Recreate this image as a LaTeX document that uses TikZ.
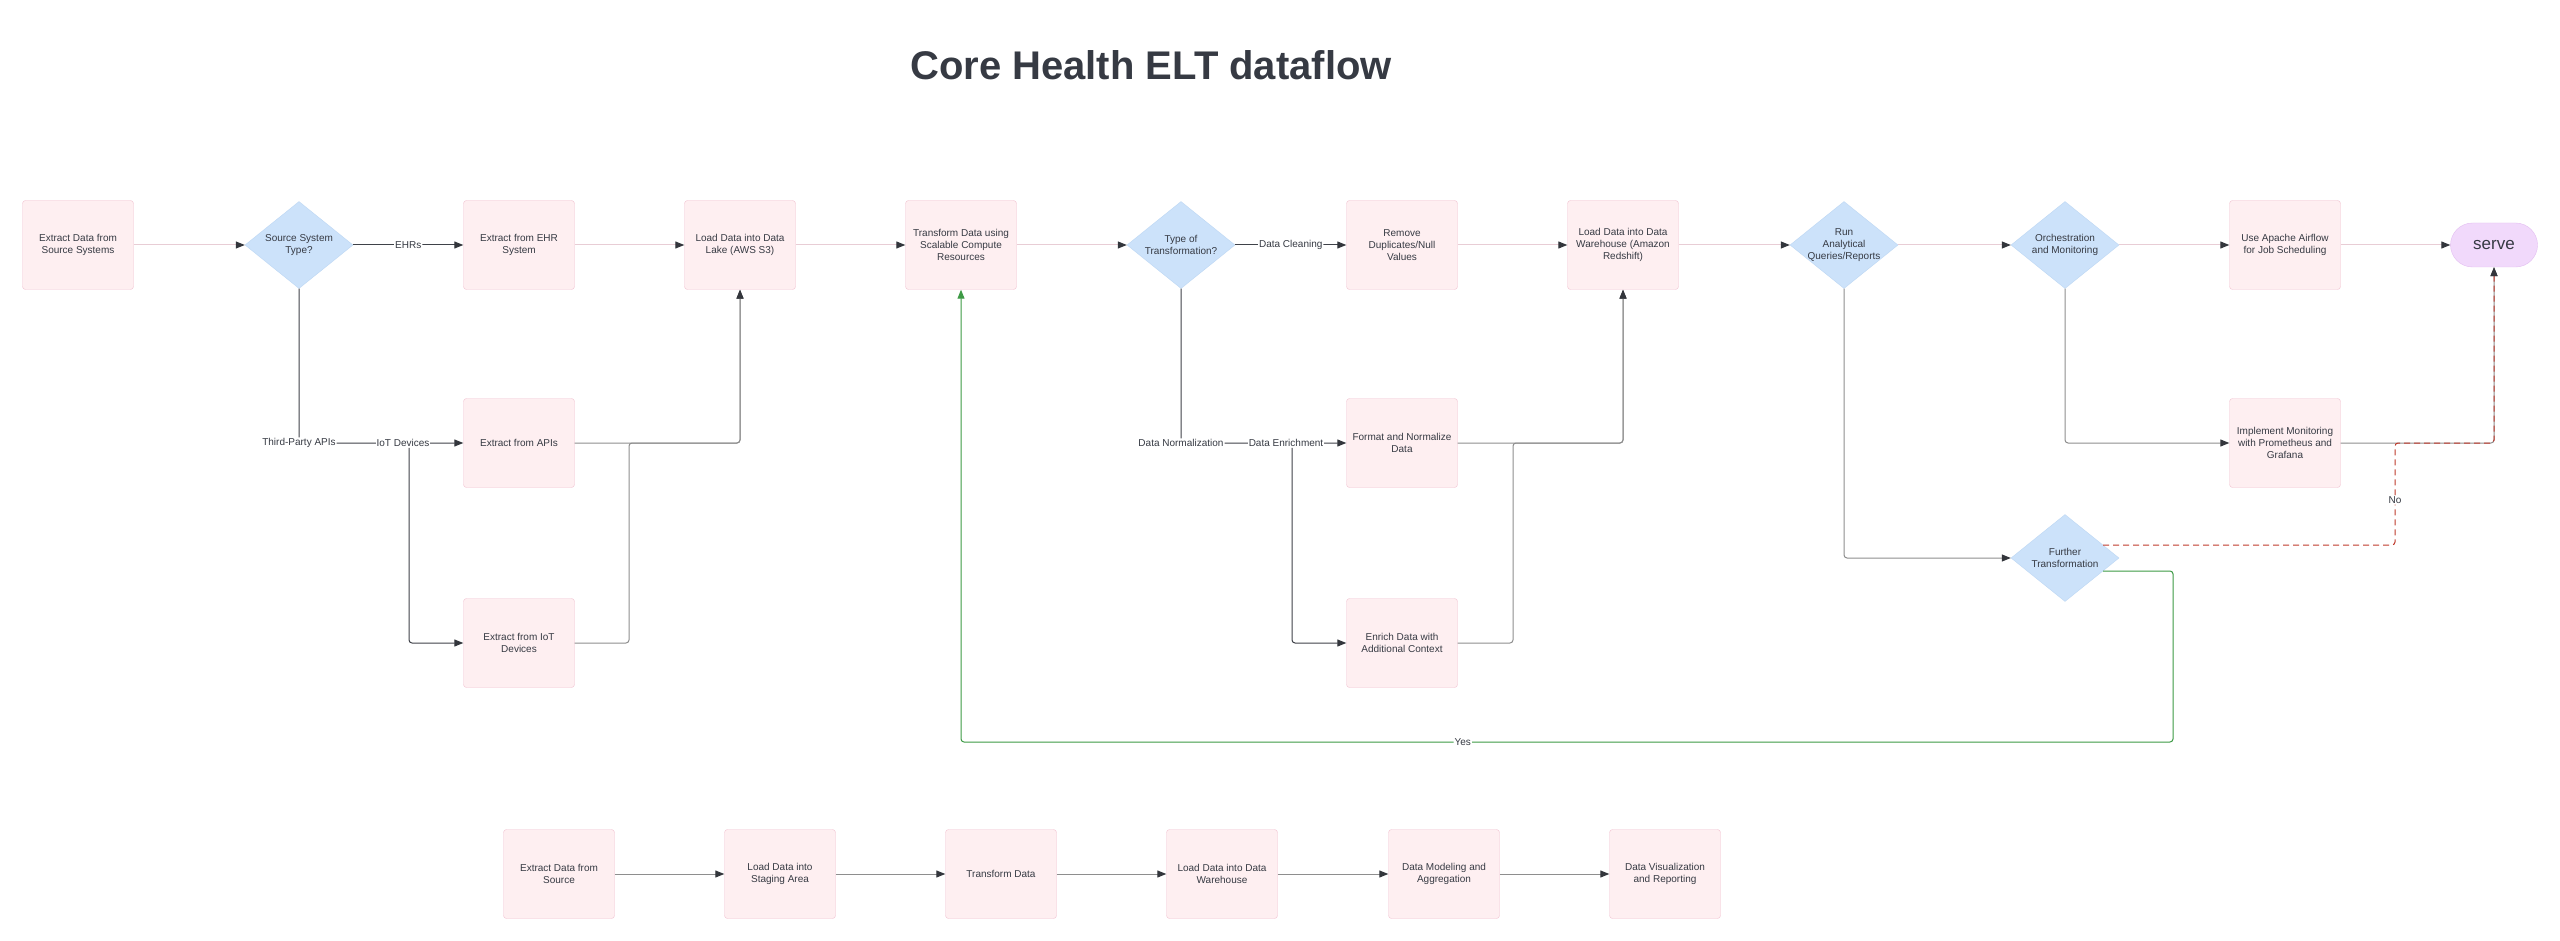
\documentclass[tikz,border=0pt]{standalone}
\usepackage{fontspec}
\setmainfont{Liberation Sans}
\usepackage{xcolor}
\usetikzlibrary{shapes.geometric, arrows.meta}

\definecolor{boxfill}{HTML}{FEEFF1}
\definecolor{boxline}{HTML}{F2C3D1}
\definecolor{diamfill}{HTML}{CCE2FA}
\definecolor{diamline}{HTML}{BDD7F4}
\definecolor{servefill}{HTML}{F1D9FB}
\definecolor{serveline}{HTML}{E3BEF1}
\definecolor{paleline}{HTML}{E8CDD5}
\definecolor{midline}{HTML}{8E8E8E}
\definecolor{darkline}{HTML}{3F4249}
\definecolor{tipcol}{HTML}{33363C}
\definecolor{ink}{HTML}{363A43}
\definecolor{yesgreen}{HTML}{3D9A45}
\definecolor{nored}{HTML}{C0392B}

\begin{document}
\begin{tikzpicture}[x=1pt,y=-1pt,
  stepbox/.style={draw=boxline, fill=boxfill, rounded corners=3pt, minimum width=111pt, minimum height=89pt, inner sep=0pt, align=center, font=\fontsize{10}{12}\selectfont, text=ink},
  choice/.style={diamond, shape aspect=1.24, draw=diamline, fill=diamfill, minimum width=108pt, minimum height=87pt, inner sep=-3pt, align=center, font=\fontsize{10}{12}\selectfont, text=ink},
  endcap/.style={draw=serveline, fill=servefill, rounded corners=22pt, minimum width=87pt, minimum height=44pt, inner sep=0pt, font=\fontsize{17}{20}\selectfont, text=ink},
  lbl/.style={fill=white, inner sep=1pt, font=\fontsize{10}{12}\selectfont, text=ink},
  flow/.style={line width=1pt, rounded corners=3pt, -{Triangle[length=9pt,width=7pt,color=tipcol]}},
  pale/.style={flow, draw=paleline},
  mid/.style={flow, draw=midline},
  dark/.style={flow, draw=darkline}]

\fill[white] (0,0) rectangle (2560,941);
\useasboundingbox (0,0) rectangle (2560,941);

\node[font=\fontsize{40}{48}\selectfont\bfseries, text=ink] (title) at (1151,65) {Core Health ELT dataflow};

% top row
\node[stepbox] (srcsys) at (78,245) {Extract Data from\\Source Systems};
\node[choice] (srctype) at (299,245) {Source System\\Type?};
\node[stepbox] (ehr) at (519,245) {Extract from EHR\\System};
\node[stepbox] (lake) at (740,245) {Load Data into Data\\Lake (AWS S3)};
\node[stepbox] (compute) at (961,245) {Transform Data using\\Scalable Compute\\Resources};
\node[choice] (trtype) at (1181,245) {Type of\\Transformation?};
\node[stepbox] (dedup) at (1402,245) {Remove\\Duplicates/Null\\Values};
\node[stepbox] (redshift) at (1623,245) {Load Data into Data\\Warehouse (Amazon\\Redshift)};
\node[choice] (queries) at (1844,245) {Run\\Analytical\\Queries/Reports};
\node[choice] (orch) at (2065,245) {Orchestration\\and Monitoring};
\node[stepbox] (airflow) at (2285,245) {Use Apache Airflow\\for Job Scheduling};
\node[endcap] (serve) at (2494,245) {serve};

% branches
\node[stepbox] (apis) at (519,443) {Extract from APIs};
\node[stepbox] (iot) at (519,643) {Extract from IoT\\Devices};
\node[stepbox] (normal) at (1402,443) {Format and Normalize\\Data};
\node[stepbox] (enrich) at (1402,643) {Enrich Data with\\Additional Context};
\node[stepbox] (monitor) at (2285,443) {Implement Monitoring\\with Prometheus and\\Grafana};
\node[choice] (further) at (2065,558) {Further\\Transformation};

% bottom row
\node[stepbox] (srcbot) at (559,874) {Extract Data from\\Source};
\node[stepbox] (staging) at (780,874) {Load Data into\\Staging Area};
\node[stepbox] (transbot) at (1001,874) {Transform Data};
\node[stepbox] (whbot) at (1222,874) {Load Data into Data\\Warehouse};
\node[stepbox] (model) at (1444,874) {Data Modeling and\\Aggregation};
\node[stepbox] (visual) at (1665,874) {Data Visualization\\and Reporting};

\coordinate (iotturn) at (409,443);
\coordinate (iotjoin) at (629,443);
\coordinate (enrturn) at (1292,443);
\coordinate (enrjoin) at (1513,443);
\coordinate (nojoin) at (2395,443);
\coordinate (yesturn) at (2173,742);

\draw[pale] (srcsys) -- (srctype);
\draw[dark] (srctype) -- node[lbl] {EHRs} (ehr);
\draw[pale] (ehr) -- (lake);
\draw[pale] (lake) -- (compute);
\draw[pale] (compute) -- (trtype);
\draw[dark] (trtype) -- node[lbl] {Data Cleaning} (dedup);
\draw[pale] (dedup) -- (redshift);
\draw[pale] (redshift) -- (queries);
\draw[pale] (queries) -- (orch);
\draw[pale] (orch) -- (airflow);
\draw[pale] (airflow) -- (serve);

\draw[dark] (srctype.south) |- node[lbl] {Third-Party APIs} (apis.west);
\node[lbl] (iotlbl) at (403,443) {IoT Devices};
\draw[dark] (iotlbl.south -| iotturn) |- (iot.west);
\draw[mid] (apis.east) -| (lake.south);
\draw[mid] (iot.east) -| (iotjoin) -| (lake.south);

\draw[dark] (trtype.south) |- node[lbl] {Data Normalization} (normal.west);
\node[lbl] (enrlbl) at (1286,443) {Data Enrichment};
\draw[dark] (enrlbl.south -| enrturn) |- (enrich.west);
\draw[mid] (normal.east) -| (redshift.south);
\draw[mid] (enrich.east) -| (enrjoin) -| (redshift.south);

\draw[mid] (queries.south) |- (further.west);
\draw[mid] (orch.south) |- (monitor.west);
\draw[mid] (monitor.east) -| (serve.south);
\draw[flow, draw=nored, dashed, dash pattern=on 6pt off 4pt] ([xshift=-16pt,yshift=13pt]further.east) -| node[lbl, pos=0.72] {No} (nojoin) -| (serve.south);
\draw[flow, draw=yesgreen, -{Triangle[length=9pt,width=7pt,color=yesgreen]}] ([xshift=-16pt,yshift=-13pt]further.east) -| (yesturn) -| node[lbl, pos=0.293] {Yes} (compute.south);

\draw[mid] (srcbot) -- (staging);
\draw[mid] (staging) -- (transbot);
\draw[mid] (transbot) -- (whbot);
\draw[mid] (whbot) -- (model);
\draw[mid] (model) -- (visual);

\end{tikzpicture}
\end{document}
